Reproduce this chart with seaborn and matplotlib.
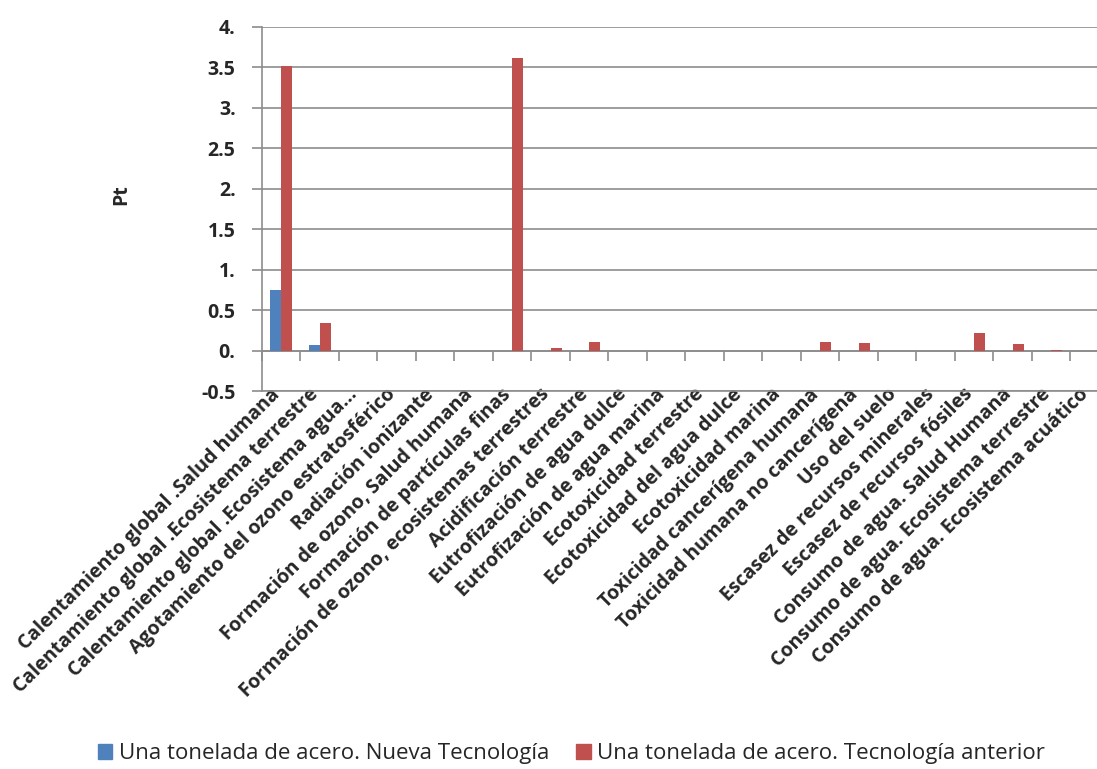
import numpy as np
import pandas as pd
import seaborn as sns
import matplotlib.pyplot as plt
import matplotlib.transforms as mtransforms

categorias = [
    'Calentamiento global .Salud humana',
    'Calentamiento global .Ecosistema terrestre',
    'Calentamiento global .Ecosistema agua...',
    'Agotamiento del ozono estratosférico',
    'Radiación ionizante',
    'Formación de ozono, Salud humana',
    'Formación de partículas finas',
    'Formación de ozono, ecosistemas terrestres',
    'Acidificación terrestre',
    'Eutrofización de agua dulce',
    'Eutrofización de agua marina',
    'Ecotoxicidad terrestre',
    'Ecotoxicidad del agua dulce',
    'Ecotoxicidad marina',
    'Toxicidad cancerígena humana',
    'Toxicidad humana no cancerígena',
    'Uso del suelo',
    'Escasez de recursos minerales',
    'Escasez de recursos fósiles',
    'Consumo de agua. Salud Humana',
    'Consumo de agua. Ecosistema terrestre',
    'Consumo de agua. Ecosistema acuático',
]

nueva_tecnologia = [0.75, 0.07, 0.0, 0.0, 0.0, 0.0, 0.0, 0.0, 0.0, 0.0, 0.0,
                    0.0, 0.0, 0.0, 0.0, 0.0, 0.0, 0.0, 0.0, 0.0, 0.0, 0.0]
tecnologia_anterior = [3.51, 0.35, 0.0, 0.0, 0.0, 0.0, 3.61, 0.035, 0.105, 0.0, 0.0,
                       0.0, 0.0, 0.0, 0.115, 0.097, 0.0, 0.0, 0.227, 0.081, 0.01, 0.0]

series = ['Una tonelada de acero. Nueva Tecnología',
          'Una tonelada de acero. Tecnología anterior']
colores = ['#4F81BD', '#C0504D']

yticks = [-0.5, 0.0, 0.5, 1.0, 1.5, 2.0, 2.5, 3.0, 3.5, 4.0]
yticks_etiquetas = ['-0.5', '0.', '0.5', '1.', '1.5', '2.', '2.5', '3.', '3.5', '4.']

df = pd.DataFrame({
    'categoria': categorias * 2,
    'valor': nueva_tecnologia + tecnologia_anterior,
    'serie': [series[0]] * len(categorias) + [series[1]] * len(categorias),
})

sns.set_style('white')
plt.rcParams['font.family'] = ['Open Sans', 'DejaVu Sans']

fig = plt.figure(figsize=(10.97, 7.69), dpi=100)
ax = fig.add_axes([0.2388, 0.4909, 0.7721, 0.4744])

sns.barplot(data=df, x='categoria', y='valor', hue='serie', palette=colores,
            width=0.57, gap=0, ax=ax, legend=False, saturation=1, linewidth=0)

gris = '#8C8C8C'
ax.set_ylim(-0.5, 4.0)
ax.set_xlim(-0.5, len(categorias) - 0.5)
ax.set_yticks(yticks, yticks_etiquetas, fontsize=14, fontweight='bold')
for y in yticks:
    ax.axhline(y, color=gris, lw=1.2, zorder=0)

ax.set_xticks(range(len(categorias)))
ax.set_xticklabels(categorias, rotation=45, ha='right', va='center',
                   rotation_mode='anchor', fontsize=14, fontweight='bold')
ax.tick_params(axis='x', length=0, pad=0)
ax.tick_params(axis='y', length=7, color=gris, width=1.2, left=True, pad=12)

# desplazar un poco las etiquetas a la izquierda
desplazamiento = mtransforms.ScaledTranslation(-4 / 100, 0, fig.dpi_scale_trans)
for etiqueta in ax.get_xticklabels():
    etiqueta.set_transform(etiqueta.get_transform() + desplazamiento)

sns.despine(ax=ax, top=True, right=True)
ax.spines['left'].set_color(gris)
ax.spines['left'].set_linewidth(1.2)
ax.spines['bottom'].set_color(gris)
ax.spines['bottom'].set_linewidth(1.2)

# eje en cero con marcas entre categorias
eje0 = ax.secondary_xaxis(0.5 / 4.5)
eje0.set_xticks(np.arange(len(categorias) + 1) - 0.5, [''] * (len(categorias) + 1))
eje0.tick_params(length=7, color=gris, width=1.2, direction='out')
eje0.spines['bottom'].set_color(gris)
eje0.spines['bottom'].set_linewidth(1.2)

ax.set_xlabel('')
ax.set_ylabel('Pt', fontsize=14, fontweight='bold')
ax.yaxis.set_label_coords((131 - 262) / 847, 0.539)

handles = [plt.Rectangle((0, 0), 1, 1, color=c) for c in colores]
fig.legend(handles, series, loc='lower center', bbox_to_anchor=(0.521, -0.02),
           ncol=2, frameon=False, fontsize=16, handlelength=0.65, handleheight=0.65,
           handletextpad=0.3, columnspacing=1.2)

fig.savefig('out.png', dpi=100)
